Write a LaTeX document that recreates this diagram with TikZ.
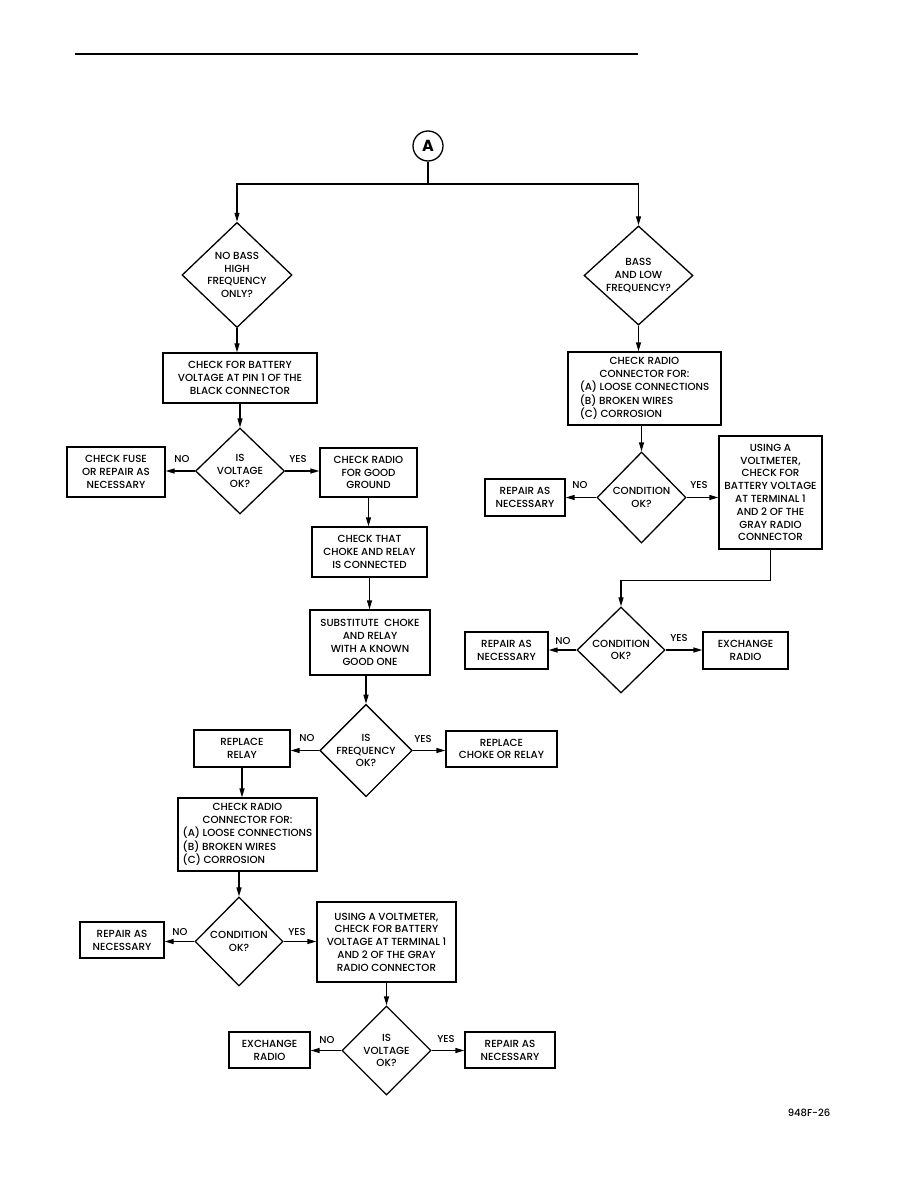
\documentclass[tikz,border=0pt]{standalone}
\usepackage{fontspec}
\setmainfont{Poppins}[UprightFont={* Medium},BoldFont={* Bold}]
\usetikzlibrary{arrows.meta,shapes.geometric}
\begin{document}
\begin{tikzpicture}[x=1pt,y=-1pt,
  every node/.style={font=\fontsize{10.3}{12.8}\selectfont},
  box/.style={draw,line width=1.3pt,inner sep=0pt,align=center,minimum width=#1},
  dia/.style={draw,diamond,line width=1.3pt,inner sep=0pt,align=center},
  lbl/.style={font=\fontsize{10}{10}\selectfont,inner sep=0pt},
  arr/.style={line width=1.3pt,-{Triangle[length=9pt,width=5pt]}},
  ln/.style={line width=1.3pt}]
\useasboundingbox (0,0) rectangle (918,1188);
\draw[line width=2.2pt] (75,54) -- (638,54);
% start
\node[draw,circle,line width=1.3pt,minimum size=30pt,inner sep=0pt,font=\fontsize{16}{16}\selectfont\bfseries] (A) at (428,146) {A};
\coordinate (split) at (428,184);
% left column
\node[dia,minimum width=110pt,minimum height=95pt] (d1) at (237,275) {NO BASS\\HIGH\\FREQUENCY\\ONLY?};
\node[box=154pt,minimum height=50pt] (b1) at (240,378) {CHECK FOR BATTERY\\VOLTAGE AT PIN 1 OF THE\\BLACK CONNECTOR};
\node[dia,minimum width=89pt,minimum height=86pt] (d2) at (240,471) {IS\\VOLTAGE\\OK?};
\node[box=98pt,minimum height=50pt] (fuse) at (116,472) {CHECK FUSE\\OR REPAIR AS\\NECESSARY};
\node[box=97pt,minimum height=49pt] (gnd) at (368.5,472.5) {CHECK RADIO\\FOR GOOD\\GROUND};
\node[box=115pt,minimum height=50pt] (conn) at (369.5,552) {CHECK THAT\\CHOKE AND RELAY\\IS CONNECTED};
\node[box=120pt,minimum height=65pt] (subst) at (370,642.5) {SUBSTITUTE~ CHOKE\\AND RELAY\\WITH A KNOWN\\GOOD ONE};
\node[dia,minimum width=89pt,minimum height=89pt] (d3) at (366,750.5) {IS\\FREQUENCY\\OK?};
\node[box=96pt,minimum height=37pt] (relay) at (242,748.5) {REPLACE\\RELAY};
\node[box=111pt,minimum height=36pt] (choke) at (501.5,749) {REPLACE\\CHOKE OR RELAY};
\node[box=139pt,minimum height=73pt] (crc) at (247.5,834.5) {\begin{tabular}{@{}l@{}}\multicolumn{1}{@{}c@{}}{CHECK RADIO}\\\multicolumn{1}{@{}c@{}}{CONNECTOR FOR:}\\(A) LOOSE CONNECTIONS\\(B) BROKEN WIRES\\(C) CORROSION\end{tabular}};
\node[dia,minimum width=88pt,minimum height=89pt] (d4) at (239,941.5) {CONDITION\\OK?};
\node[box=84pt,minimum height=36pt] (rep1) at (122,940) {REPAIR AS\\NECESSARY};
\node[box=139pt,minimum height=80pt] (volt) at (386.5,942) {USING A VOLTMETER,\\CHECK FOR BATTERY\\VOLTAGE AT TERMINAL 1\\AND 2 OF THE GRAY\\RADIO CONNECTOR};
\node[dia,minimum width=89pt,minimum height=89pt] (d5) at (386.5,1050.5) {IS\\VOLTAGE\\OK?};
\node[box=81pt,minimum height=36pt] (exch) at (269.5,1050) {EXCHANGE\\RADIO};
\node[box=90pt,minimum height=36pt] (rep2) at (510,1050) {REPAIR AS\\NECESSARY};
% right column
\node[dia,minimum width=109pt,minimum height=95pt] (r1) at (638.5,275.5) {BASS\\AND LOW\\FREQUENCY?};
\node[box=153pt,minimum height=73pt] (rb1) at (644.5,388.5) {\begin{tabular}{@{}l@{}}\multicolumn{1}{@{}c@{}}{CHECK RADIO}\\\multicolumn{1}{@{}c@{}}{CONNECTOR FOR:}\\(A) LOOSE CONNECTIONS\\(B) BROKEN WIRES\\(C) CORROSION\end{tabular}};
\node[dia,minimum width=89pt,minimum height=91pt] (r2) at (641.5,497.5) {CONDITION\\OK?};
\node[box=80pt,minimum height=37pt] (rep3) at (525,497.5) {REPAIR AS\\NECESSARY};
\node[box=103pt,minimum height=113pt] (rb2) at (770.5,492.5) {USING A\\VOLTMETER,\\CHECK FOR\\BATTERY VOLTAGE\\AT TERMINAL 1\\AND 2 OF THE\\GRAY RADIO\\CONNECTOR};
\node[dia,minimum width=88pt,minimum height=86pt] (r3) at (621,650) {CONDITION\\OK?};
\node[box=83pt,minimum height=37pt] (rep4) at (506.5,650.5) {REPAIR AS\\NECESSARY};
\node[box=85pt,minimum height=37pt] (exr) at (745.5,650.5) {EXCHANGE\\RADIO};
% connectors
\draw[ln] (A) -- (split);
\draw[arr] (split) -| (d1.north);
\draw[arr] (split) -| (r1.north);
\draw[arr] (d1.south) -- (d1.south |- b1.north);
\draw[arr] (d2.north |- b1.south) -- (d2.north);
\draw[arr] (d2.west) -- (d2.west -| fuse.east);
\draw[arr] (d2.east) -- (d2.east -| gnd.west);
\draw[arr] (gnd.south) -- (gnd.south |- conn.north);
\draw[arr] (conn.south) -- (conn.south |- subst.north);
\draw[arr] (d3.north |- subst.south) -- (d3.north);
\draw[arr] (d3.west) -- (d3.west -| relay.east);
\draw[arr] (d3.east) -- (d3.east -| choke.west);
\draw[arr] (relay.south) -- (relay.south |- crc.north);
\draw[arr] (d4.north |- crc.south) -- (d4.north);
\draw[arr] (d4.west) -- (d4.west -| rep1.east);
\draw[arr] (d4.east) -- (d4.east -| volt.west);
\draw[arr] (d5.north |- volt.south) -- (d5.north);
\draw[arr] (d5.west) -- (d5.west -| exch.east);
\draw[arr] (d5.east) -- (d5.east -| rep2.west);
\draw[arr] (r1.south) -- (r1.south |- rb1.north);
\draw[arr] (r2.north |- rb1.south) -- (r2.north);
\draw[arr] (r2.west) -- (r2.west -| rep3.east);
\draw[arr] (r2.east) -- (r2.east -| rb2.west);
\draw[arr] (rb2.south) -- ++(0,31) -| (r3.north);
\draw[arr] (r3.west) -- (r3.west -| rep4.east);
\draw[arr] (r3.east) -- (r3.east -| exr.west);
% labels
\node[lbl] (n2) at (182,459) {NO};
\node[lbl] (y2) at (298,459) {YES};
\node[lbl] (n3) at (307,738) {NO};
\node[lbl] (y3) at (423,739) {YES};
\node[lbl] (n4) at (180,932) {NO};
\node[lbl] (y4) at (297,932) {YES};
\node[lbl] (n5) at (327,1040) {NO};
\node[lbl] (y5) at (446,1039) {YES};
\node[lbl] (nr2) at (580,485) {NO};
\node[lbl] (yr2) at (699,485) {YES};
\node[lbl] (nr3) at (563,641) {NO};
\node[lbl] (yr3) at (679,638) {YES};
\node[lbl] (fig) at (809,1113) {948F-26};
\end{tikzpicture}
\end{document}
